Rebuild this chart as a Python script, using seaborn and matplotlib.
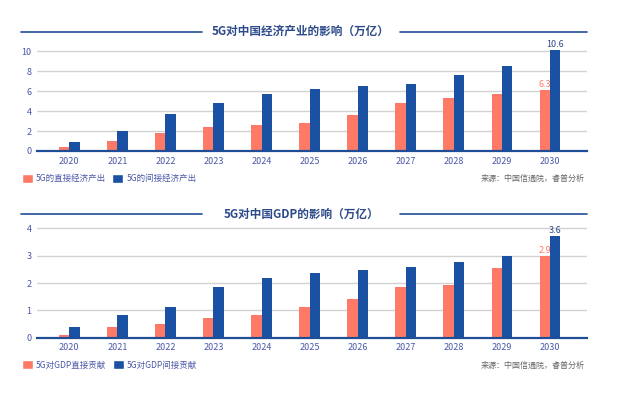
import pandas as pd
import matplotlib.pyplot as plt
import seaborn as sns
from matplotlib.patches import Patch
from matplotlib.lines import Line2D

sns.set_theme(style="white")
plt.rcParams['font.family'] = ['Noto Sans CJK SC', 'DejaVu Sans']

# ===============================
# Data
# ===============================
years = ['2020', '2021', '2022', '2023', '2024', '2025', '2026', '2027', '2028', '2029', '2030']

econ_direct = [0.4, 1.0, 1.8, 2.4, 2.6, 2.8, 3.6, 4.8, 5.3, 5.7, 6.1]
econ_indirect = [0.9, 2.0, 3.7, 4.8, 5.7, 6.2, 6.5, 6.7, 7.6, 8.5, 10.1]
econ_labels = ['6.3', '10.6']

gdp_direct = [0.1, 0.4, 0.5, 0.72, 0.83, 1.12, 1.41, 1.85, 1.93, 2.55, 2.99]
gdp_indirect = [0.4, 0.83, 1.12, 1.85, 2.18, 2.37, 2.48, 2.59, 2.77, 2.99, 3.72]
gdp_labels = ['2.9', '3.6']

econ_series = ['5G的直接经济产出', '5G的间接经济产出']
gdp_series = ['5G对GDP直接贡献', '5G对GDP间接贡献']

titles = ['5G对中国经济产业的影响（万亿）', '5G对中国GDP的影响（万亿）']
source = '来源：中国信通院，睿普分析'

SALMON = '#ff7a66'
BLUE = '#1b51a3'
DARK = '#1f4e96'
TICK = '#4b58a8'

fig = plt.figure(figsize=(6.17, 3.97), dpi=100)


def make_df(direct, indirect, names):
    return pd.DataFrame({
        'year': years * 2,
        'value': direct + indirect,
        'series': [names[0]] * len(years) + [names[1]] * len(years),
    })


def draw_panel(rect, df, names, title, ymax, yticks, labels, title_y, legend_y):
    ax = fig.add_axes(rect)
    sns.barplot(data=df, x='year', y='value', hue='series', hue_order=names,
                palette=[SALMON, BLUE], width=0.43, gap=0, saturation=1,
                edgecolor='none', linewidth=0, legend=False, ax=ax)
    ax.set_xlim(-0.67, 10.77)
    ax.set_ylim(0, ymax)
    ax.set_yticks(yticks)
    ax.set_xlabel('')
    ax.set_ylabel('')
    ax.yaxis.grid(True, color='#d2d2d2', lw=1)
    ax.xaxis.grid(False)
    ax.set_axisbelow(True)
    for s in ['top', 'right', 'left']:
        ax.spines[s].set_visible(False)
    ax.spines['bottom'].set_color(DARK)
    ax.spines['bottom'].set_linewidth(1.6)
    ax.spines['bottom'].set_zorder(5)
    ax.tick_params(axis='both', length=0, labelsize=6.5, labelcolor=TICK, pad=4)

    # value labels on the 2030 bars
    colors = [SALMON, '#2d4a8a']
    for cont, lab, c in zip(ax.containers, labels, colors):
        ax.bar_label(cont, labels=[''] * (len(years) - 1) + [lab],
                     color=c, fontsize=6.5, padding=0.5)

    # header title with rules
    fig.text(0.488, title_y, title, ha='center', va='center',
             fontsize=8.4, fontweight='bold', color='#2d4a8a')
    fig.add_artist(Line2D([21 / 617, 202 / 617], [title_y, title_y], color=DARK, lw=1.2))
    fig.add_artist(Line2D([400 / 617, 587 / 617], [title_y, title_y], color=DARK, lw=1.2))

    handles = [Patch(facecolor=SALMON), Patch(facecolor=BLUE)]
    fig.legend(handles, names, loc='center left', bbox_to_anchor=(0.035, legend_y),
               ncol=2, frameon=False, fontsize=6.1, labelcolor=TICK,
               handlelength=1.3, handleheight=1.2, handletextpad=0.35,
               columnspacing=0.8, borderpad=0, borderaxespad=0)
    fig.text(585 / 617, legend_y, source, ha='right', va='center',
             fontsize=5.8, color='#666666')
    return ax


draw_panel([37 / 617, 1 - 151 / 397, 550 / 617, 102.9 / 397],
           make_df(econ_direct, econ_indirect, econ_series), econ_series, titles[0],
           10.3, [0, 2, 4, 6, 8, 10], econ_labels, 1 - 31.5 / 397, 1 - 178.5 / 397)

draw_panel([37 / 617, 1 - 337.7 / 397, 550 / 617, 112.1 / 397],
           make_df(gdp_direct, gdp_indirect, gdp_series), gdp_series, titles[1],
           4.1, [0, 1, 2, 3, 4], gdp_labels, 1 - 214 / 397, 1 - 365 / 397)

fig.savefig('out.png', dpi=100)
